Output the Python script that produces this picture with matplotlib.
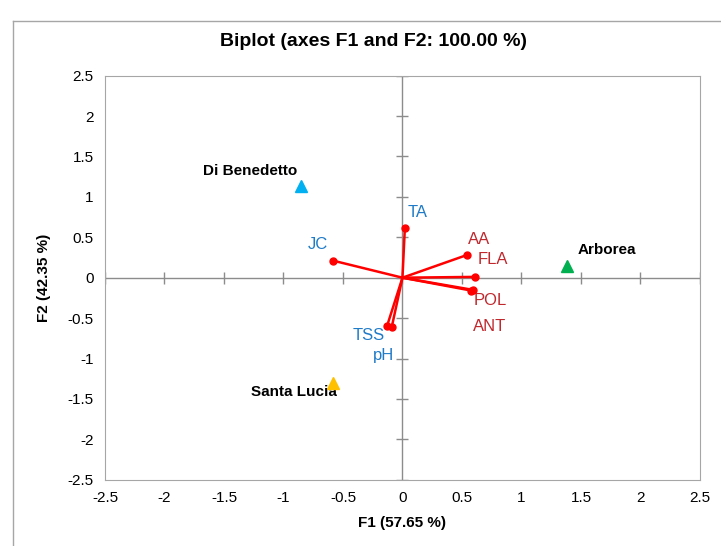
import matplotlib.pyplot as plt
from matplotlib.lines import Line2D

plt.rcParams['font.family'] = ['Liberation Sans', 'DejaVu Sans']

# observations (F1, F2)
obs_names = ["Di Benedetto", "Arborea", "Santa Lucia"]
obs_x = [-0.85, 1.38, -0.58]
obs_y = [1.14, 0.15, -1.30]
obs_colors = ["#00B0F0", "#00B050", "#FFC000"]
obs_label_x = [-1.28, 1.72, -0.91]
obs_label_y = [1.32, 0.34, -1.42]

# variables (loadings)
var_names = ["TA", "JC", "AA", "FLA", "POL", "ANT", "TSS", "pH"]
var_x = [0.02, -0.58, 0.54, 0.61, 0.59, 0.58, -0.13, -0.09]
var_y = [0.61, 0.21, 0.28, 0.01, -0.15, -0.16, -0.60, -0.61]
var_colors = ["#1F7BC8", "#1F7BC8", "#C0282D", "#C0282D", "#C0282D", "#C0282D", "#1F7BC8", "#1F7BC8"]
var_label_x = [0.13, -0.71, 0.64, 0.76, 0.74, 0.73, -0.28, -0.16]
var_label_y = [0.81, 0.41, 0.47, 0.22, -0.28, -0.61, -0.72, -0.96]

ticks = [-2.5, -2, -1.5, -1, -0.5, 0, 0.5, 1, 1.5, 2, 2.5]
tick_labels = ["-2.5", "-2", "-1.5", "-1", "-0.5", "0", "0.5", "1", "1.5", "2", "2.5"]

fig = plt.figure(figsize=(7.21, 5.46), dpi=100)
ax = fig.add_axes([0.1456, 0.1214, 0.8252, 0.74])

# outer chart frame
grey = "#A6A6A6"
fig.add_artist(Line2D([13 / 721, 13 / 721], [0, 1 - 21 / 546], color=grey, lw=1))
fig.add_artist(Line2D([13 / 721, 1], [1 - 21 / 546, 1 - 21 / 546], color=grey, lw=1))

ax.set_xlim(-2.5, 2.5)
ax.set_ylim(-2.5, 2.5)
for s in ax.spines.values():
    s.set_color(grey)
ax.set_xticks(ticks)
ax.set_xticklabels(tick_labels)
ax.set_yticks(ticks)
ax.set_yticklabels(tick_labels)
ax.tick_params(length=0, labelsize=11, pad=8)

# central axes with cross ticks
ax.axhline(0, color="#8C8C8C", lw=1, zorder=1)
ax.axvline(0, color="#8C8C8C", lw=1, zorder=1)
ax.plot(ticks, [0] * len(ticks), ls="none", marker="|", ms=8, color="#8C8C8C", zorder=1)
ax.plot([0] * len(ticks), ticks, ls="none", marker="_", ms=8, color="#8C8C8C", zorder=1)

# vectors
for i in range(len(var_names)):
    ax.plot([0, var_x[i]], [0, var_y[i]], color="#FF0000", lw=1.8, zorder=3)
    ax.plot(var_x[i], var_y[i], "o", color="#FF0000", ms=5, zorder=4)
    ax.text(var_label_x[i], var_label_y[i], var_names[i], color=var_colors[i],
            fontsize=12, ha="center", va="center")

# observations
for i in range(len(obs_names)):
    ax.plot(obs_x[i], obs_y[i], "^", color=obs_colors[i], ms=9, zorder=5)
    ax.text(obs_label_x[i], obs_label_y[i], obs_names[i], fontsize=11,
            fontweight="bold", ha="center", va="center")

fig.text(374 / 721, 1 - 42 / 546, "Biplot (axes F1 and F2: 100.00 %)",
         fontsize=14, fontweight="bold", ha="center", va="center")
ax.set_xlabel("F1 (57.65 %)", fontsize=11, fontweight="bold", labelpad=8)
ax.set_ylabel("F2 (42.35 %)", fontsize=11, fontweight="bold", labelpad=12)

fig.savefig("out.png", dpi=100)
